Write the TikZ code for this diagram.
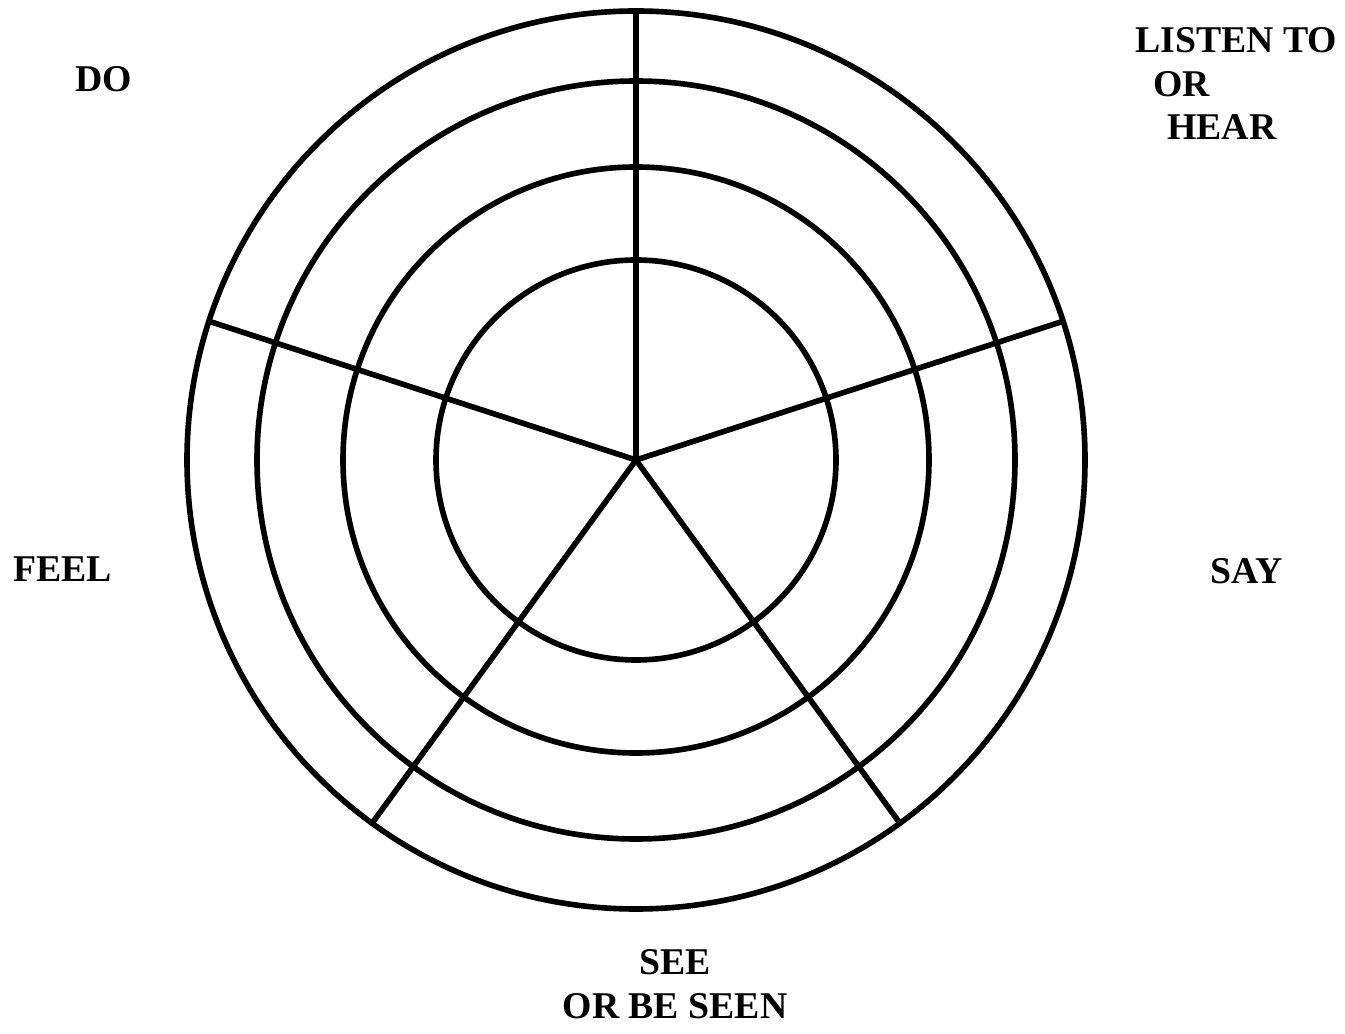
\documentclass[tikz,border=0pt]{standalone}
\usepackage{fontspec}
\setmainfont{Liberation Serif}
\usepackage{tikz}
\usetikzlibrary{calc}
\tikzset{ring/.style={line width=3.2pt,draw=black},
  spoke/.style={line width=3.2pt,draw=black,line cap=butt},
  lbl/.style={inner sep=0pt,font=\fontsize{21.5}{25}\selectfont\bfseries,text=black}}
\begin{document}
\begin{tikzpicture}
\useasboundingbox (0,0) rectangle (26.9,20.66);
\coordinate (c) at (12.72,11.46);
\foreach \r in {4.0,5.86,7.58,8.98}
  \draw[ring] (c) circle (\r);
\foreach \a in {90,18,-54,-126,162}
  \draw[spoke] (c) -- ($(c)+(\a:8.98)$);
\node[lbl,anchor=base west] (do) at (1.5,18.82) {DO};
\node[lbl,anchor=base west,align=left] (listen) at (22.7,17.86) {LISTEN TO\\\hspace*{0.36cm}OR\\\hspace*{0.64cm}HEAR};
\node[lbl,anchor=base west] (feel) at (0.26,9.02) {FEEL};
\node[lbl,anchor=base west] (say) at (24.2,8.98) {SAY};
\node[lbl,anchor=base,align=center] (see) at (13.5,0.3) {SEE\\OR BE SEEN};
\end{tikzpicture}
\end{document}
